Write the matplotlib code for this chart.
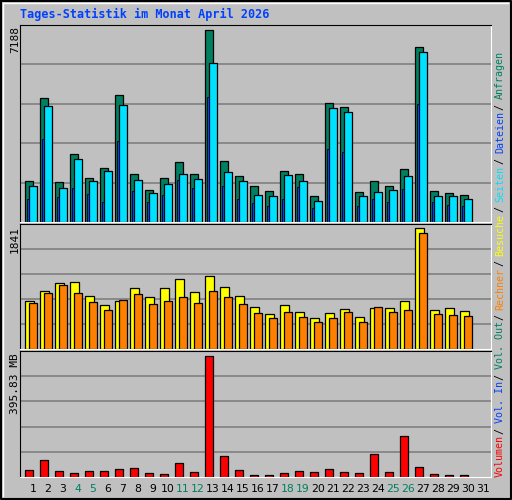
import numpy as np
import matplotlib
matplotlib.use("Agg")
import matplotlib.pyplot as plt

days = list(range(1, 32))
hits = [1526, 4641, 1489, 2540, 1639, 2014, 4754, 1789, 1188, 1639, 2239, 1789, 7188, 2277, 1714,
        1339, 1151, 1902, 1789, 963, 4454, 4303, 1113, 1526, 1339, 1977, 6518, 1151, 1076, 1001]
files = [1339, 4341, 1264, 2352, 1526, 1902, 4379, 1564, 1076, 1414, 1789, 1601, 5955, 1864, 1526,
         1001, 963, 1751, 1526, 776, 4266, 4116, 963, 1113, 1188, 1714, 6330, 963, 963, 851]
pages = [851, 3102, 926, 1264, 1038, 738, 3027, 1151, 738, 1001, 1564, 1264, 4679, 1339, 851,
         701, 588, 851, 1301, 513, 2727, 2615, 588, 851, 738, 1226, 4416, 738, 626, 588]
visits = [736, 890, 997, 1013, 813, 675, 736, 921, 798, 921, 1059, 874, 1105, 936, 813,
          644, 537, 675, 568, 476, 552, 614, 491, 629, 629, 736, 1841, 598, 629, 583]
hosts = [706, 859, 967, 859, 721, 598, 752, 844, 690, 736, 798, 706, 890, 798, 690,
         552, 476, 568, 491, 414, 476, 568, 414, 644, 568, 598, 1764, 537, 522, 506]
volume = [24.3, 54.2, 21.0, 14.4, 21.0, 21.0, 27.6, 31.0, 14.4, 11.0, 44.2, 17.7, 395.83, 67.4, 24.3,
          7.7, 7.7, 14.4, 21.0, 17.7, 27.6, 17.7, 14.4, 74.1, 17.7, 133.8, 34.3, 11.0, 7.7, 7.7]
weekend = [4, 5, 11, 12, 18, 19, 25, 26]

W, H = 512, 500
BG = '#c0c0c0'
GREEN = '#008060'
fig = plt.figure(figsize=(W / 100, H / 100), dpi=100, facecolor=BG)
mono = 'DejaVu Sans Mono'

def panel(top, bottom):
    ax = fig.add_axes([20 / W, 1 - bottom / H, 471 / W, (bottom - top) / H])
    ax.set_facecolor(BG)
    ax.set_xlim(0.133, 31.533)
    ax.set_xticks([])
    ax.set_yticks([])
    for s in ['top', 'left']:
        ax.spines[s].set_color('black')
    for s in ['bottom', 'right']:
        ax.spines[s].set_color('white')
    return ax

def grid(ax, ymax):
    ax.set_ylim(0, ymax)
    for k in range(1, 5):
        ax.axhline(ymax * k / 5, color='#808080', lw=1.2, zorder=0)

px = 1 / 15.0  # one pixel in day units
x = np.array(days[:30])
ew = 0.9

# top panel
ax1 = panel(25, 222)
grid(ax1, 7188 * 196 / 191.5)
ax1.bar(x - 7.7 * px, hits, width=7.4 * px, align='edge', color=GREEN, edgecolor='black', lw=ew)
ax1.bar(x - 3.7 * px, files, width=7.4 * px, align='edge', color='#00e0ff', edgecolor='black', lw=ew)
ax1.bar(x - 6.3 * px, pages, width=2.3 * px, align='edge', color='#0040ff', edgecolor='black', lw=0.6)

# middle panel
ax2 = panel(224, 349)
grid(ax2, 1841 * 124 / 120)
ax2.bar(x - 7.7 * px, visits, width=8.4 * px, align='edge', color='#ffff00', edgecolor='black', lw=ew)
ax2.bar(x - 3.7 * px, hosts, width=7.4 * px, align='edge', color='#ff8000', edgecolor='black', lw=ew)

# bottom panel
ax3 = panel(351, 477)
grid(ax3, 395.83 * 125 / 120)
ax3.bar(x - 7.7 * px, volume, width=7.4 * px, align='edge', color='#ff0000', edgecolor='black', lw=ew)

# day labels
for d in days:
    xp = 33 + 15 * (d - 1)
    fig.text(xp / W, 1 - 489 / H, str(d), ha='center', va='center', fontsize=7.8,
             family='DejaVu Sans', color=GREEN if d in weekend else 'black')

fig.text(20 / W, 1 - 14 / H, 'Tages-Statistik im Monat April 2026', ha='left', va='center',
         fontsize=8.5, family=mono, weight='bold', color='#0040ff')

for lbl, ytop in [('7188', 26), ('1841', 226), ('395.83 MB', 353)]:
    fig.text(15 / W, 1 - ytop / H, lbl, rotation=90, ha='center', va='top', fontsize=8,
             family=mono, color='black')

# right vertical legend, bottom to top
pieces = [('Volumen', '#ff0000'), ('/', 'black'), ('Vol. In', '#0040ff'), ('/', 'black'),
          ('Vol. Out', GREEN), ('/', 'black'), ('Rechner', '#ff8000'), ('/', 'black'),
          ('Besuche', '#ffff00'), ('/', 'black'), ('Seiten', '#00e0ff'), ('/', 'black'),
          ('Dateien', '#0040ff'), ('/', 'black'), ('Anfragen', GREEN)]
cw = 5.4
yp = 477
for txt, col in pieces:
    n = len(txt) if txt != '/' else 3
    off = 0 if txt != '/' else cw
    fig.text(500 / W, 1 - (yp - off) / H, txt, rotation=90, ha='center', va='bottom', fontsize=7.2,
             family=mono, color=col)
    yp -= cw * n

# outer frame
fr = fig.add_axes([0, 0, 1, 1], facecolor='none')
fr.set_xlim(0, W)
fr.set_ylim(H, 0)
fr.axis('off')
fr.plot([1, W - 1, W - 1, 1, 1], [1, 1, H - 1, H - 1, 1], color='black', lw=1.5)
fr.plot([3, W - 4], [3, 3], color='white', lw=1)
fr.plot([3, 3], [3, H - 4], color='white', lw=1)

fig.savefig('out.png', dpi=100, facecolor=BG)
